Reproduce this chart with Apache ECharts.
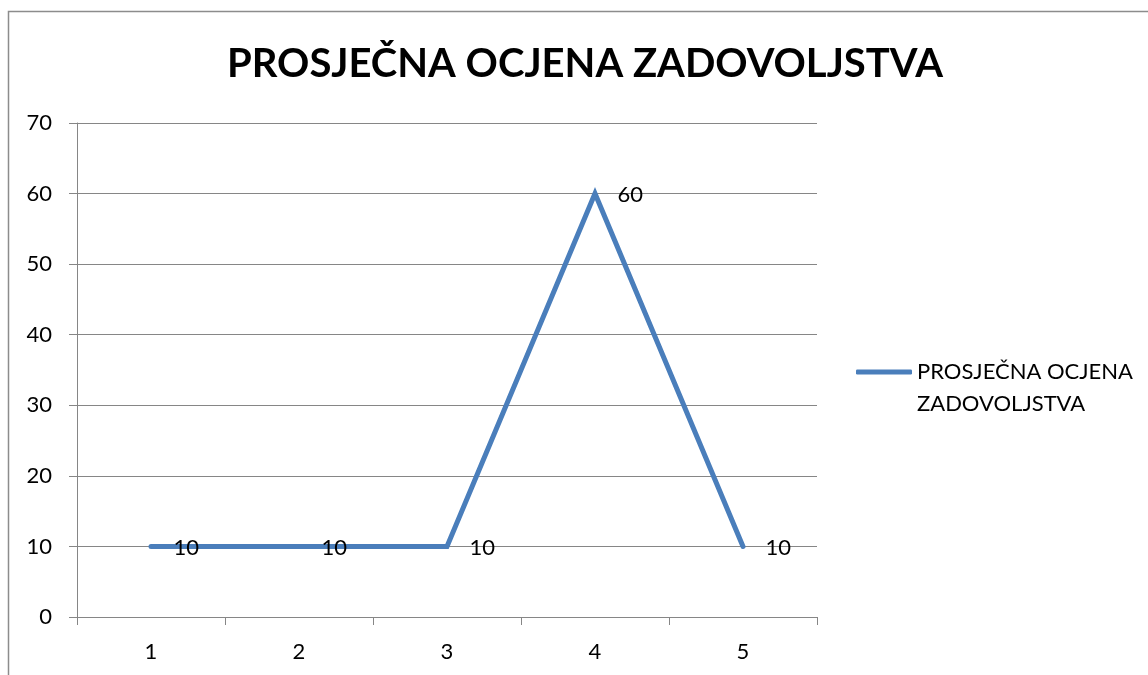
<!DOCTYPE html>
<html>
<head>
<meta charset="utf-8">
<script src="https://cdn.jsdelivr.net/npm/echarts@6/dist/echarts.min.js"></script>
<style>
html,body{margin:0;padding:0;background:#fff;}
#chart{width:1148px;height:675px;}
</style>
</head>
<body>
<div id="chart"></div>
<script>
const titleText = 'PROSJEČNA OCJENA ZADOVOLJSTVA';
const seriesName = 'PROSJEČNA OCJENA\nZADOVOLJSTVA';
const categories = ['1', '2', '3', '4', '5'];
const values = [10, 10, 10, 60, 10];
const yTicks = [0, 10, 20, 30, 40, 50, 60, 70];

const chart = echarts.init(document.getElementById('chart'), null, {renderer: 'canvas'});
const font = 'Lato';
const lineColor = '#4a7ebb';
const option = {
  backgroundColor: '#ffffff',
  animation: false,
  graphic: [{
    type: 'rect',
    shape: {x: 8.5, y: 11.5, width: 1200, height: 700},
    style: {fill: 'none', stroke: '#8c8c8c', lineWidth: 1.5},
    silent: true,
    z: -1
  }],
  title: {
    text: titleText,
    left: 580,
    textAlign: 'center',
    top: 39,
    textStyle: {fontFamily: font, fontWeight: 'bold', fontSize: 40, color: '#000'}
  },
  legend: {
    left: 856,
    top: 324,
    padding: 0,
    orient: 'vertical',
    icon: 'roundRect',
    itemWidth: 56,
    itemHeight: 5,
    itemGap: 5,
    data: [seriesName],
    formatter: function (n) { return '\n' + n; },
    itemStyle: {color: lineColor},
    textStyle: {fontFamily: font, fontSize: 22, color: '#000', lineHeight: 32}
  },
  grid: {left: 77, right: 331, top: 123, bottom: 58, containLabel: false},
  xAxis: {
    type: 'category',
    data: categories,
    boundaryGap: true,
    axisLine: {lineStyle: {color: '#868686', width: 1}},
    axisTick: {show: true, length: 8, lineStyle: {color: '#868686'}},
    axisLabel: {fontFamily: font, fontSize: 22, color: '#000', margin: 24}
  },
  yAxis: {
    type: 'value',
    min: yTicks[0],
    max: yTicks[yTicks.length - 1],
    interval: 10,
    axisLine: {show: true, lineStyle: {color: '#868686', width: 1}},
    axisTick: {show: true, length: 8, lineStyle: {color: '#868686'}},
    splitLine: {show: true, lineStyle: {color: '#868686', width: 1}},
    axisLabel: {fontFamily: font, fontSize: 22, color: '#000', margin: 25}
  },
  series: [{
    name: seriesName,
    type: 'line',
    data: values,
    symbol: 'circle',
    symbolSize: 1,
    showSymbol: true,
    lineStyle: {color: lineColor, width: 5, cap: 'round', join: 'miter'},
    itemStyle: {color: lineColor},
    label: {
      show: true,
      position: 'right',
      distance: 22,
      offset: [0, 1],
      fontFamily: font,
      fontSize: 22,
      color: '#000'
    }
  }]
};
chart.setOption(option);
</script>
</body>
</html>
